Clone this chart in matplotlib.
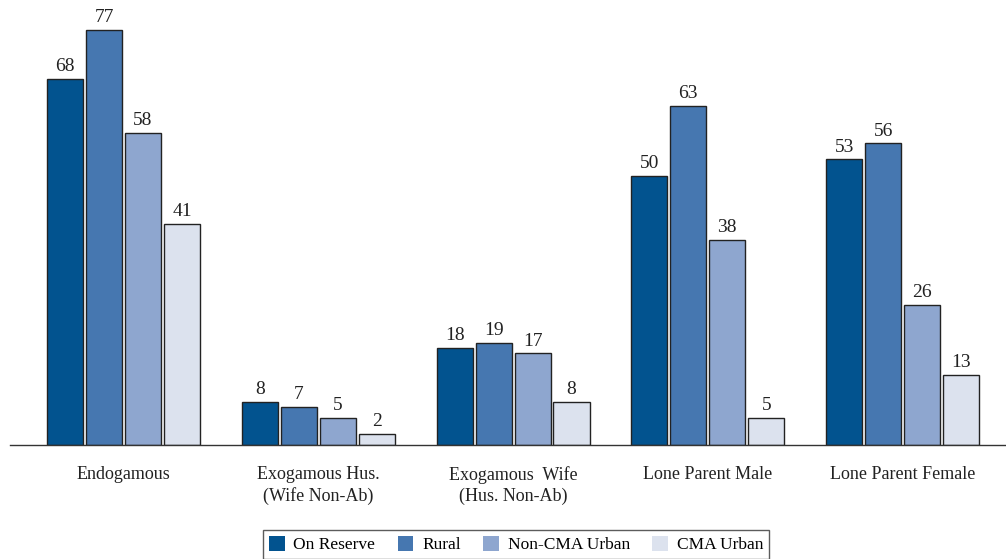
import numpy as np
import matplotlib.pyplot as plt

plt.rcParams['font.family'] = ['Liberation Serif', 'DejaVu Serif']

categories = ['Endogamous', 'Exogamous Hus.\n(Wife Non-Ab)', 'Exogamous  Wife\n(Hus. Non-Ab)',
              'Lone Parent Male', 'Lone Parent Female']
series = ['On Reserve', 'Rural', 'Non-CMA Urban', 'CMA Urban']
on_reserve = [68, 8, 18, 50, 53]
rural = [77, 7, 19, 63, 56]
non_cma = [58, 5, 17, 38, 26]
cma = [41, 2, 8, 5, 13]
colors = ['#02538f', '#4677b0', '#8ea6cf', '#dce2ee']

fig = plt.figure(figsize=(10.06, 5.59), dpi=100)
ax = fig.add_axes([10 / 1006, 0.204, 996 / 1006, 0.796])

x = np.arange(len(categories))
width = 0.185
step = 0.2
handles = []
for i, (vals, col) in enumerate(zip([on_reserve, rural, non_cma, cma], colors)):
    pos = x + (i - 1.5) * step
    b = ax.bar(pos, vals, width, color=col, edgecolor='#222222', linewidth=1.0, label=series[i])
    handles.append(b)
    for p, v in zip(pos, vals):
        ax.text(p, v + 0.7, str(v), ha='center', va='bottom', fontsize=14, color='#222222')

ax.set_xlim(-0.583, 4.531)
ax.set_ylim(0, 82.6)
for s in ['top', 'right', 'left']:
    ax.spines[s].set_visible(False)
ax.spines['bottom'].set_color('#333333')
ax.spines['bottom'].set_linewidth(1.0)
ax.set_yticks([])
ax.set_xticks(x)
ax.set_xticklabels(categories, fontsize=13, color='#222222', linespacing=1.3)
ax.tick_params(axis='x', length=0, pad=15)

leg = fig.legend(handles=handles, labels=series, loc='lower center', bbox_to_anchor=(0.513, -0.01),
                 ncol=4, fontsize=12.5, frameon=True, fancybox=False, edgecolor='#333333',
                 handlelength=0.9, handleheight=0.9, columnspacing=1.3, handletextpad=0.5,
                 borderpad=0.35, borderaxespad=0.3)
for h in leg.legend_handles:
    h.set_edgecolor('none')

fig.savefig('out.png', dpi=100)
